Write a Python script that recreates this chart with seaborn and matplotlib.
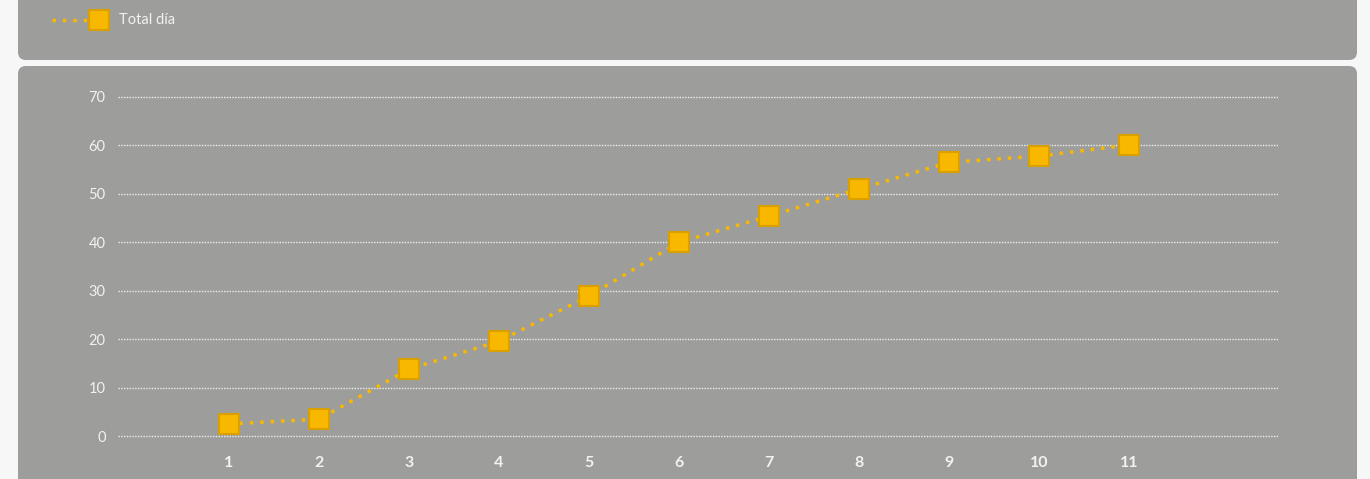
"""Total acumulado por día."""
import matplotlib
matplotlib.use("Agg")
import matplotlib.pyplot as plt
import seaborn as sns
from matplotlib.markers import MarkerStyle
from matplotlib.patches import FancyBboxPatch

dias = [1, 2, 3, 4, 5, 6, 7, 8, 9, 10, 11]
totales = [2.5, 3.5, 13.8, 19.6, 28.9, 40.0, 45.4, 51.0, 56.5, 57.8, 60.1]
yticks = [0, 10, 20, 30, 40, 50, 60, 70]
serie = "Total día"

sns.set_style("white")
plt.rcParams["font.family"] = ["Lato", "DejaVu Sans"]

GRIS = "#9d9d9b"
AMARILLO = "#f8b800"
BORDE = "#d9a000"
TEXTO = "#f2f2f2"

W, H = 1370, 479
fig = plt.figure(figsize=(W / 100, H / 100), dpi=100, facecolor="#f7f7f7")

# fondo con los dos paneles redondeados (coordenadas en píxeles)
bg = fig.add_axes([0, 0, 1, 1])
bg.set_xlim(0, W)
bg.set_ylim(H, 0)
bg.axis("off")
bg.add_patch(FancyBboxPatch((18, -20), 1339, 80, boxstyle="round,pad=0,rounding_size=8",
                            facecolor=GRIS, edgecolor="none"))
bg.add_patch(FancyBboxPatch((18, 66), 1339, 440, boxstyle="round,pad=0,rounding_size=8",
                            facecolor=GRIS, edgecolor="none"))

marcador = MarkerStyle("s", joinstyle="round")

# leyenda dibujada a mano en el panel superior
bg.plot([52, 99], [20, 20], color=AMARILLO, lw=2.5, linestyle=(0, (1, 2)))
bg.plot([99], [20], marker=marcador, markersize=15, color=AMARILLO,
        markeredgecolor=BORDE, markeredgewidth=1.5, linestyle="none")
bg.text(119, 20, serie, color=TEXTO, fontsize=10.5, va="center", ha="left")

# área del gráfico (un poco más alta que 0-70 para que se vea la línea del 0)
izq, der, arriba, abajo = 118, 1278, 95, 438
ax = fig.add_axes([izq / W, (H - abajo) / H, (der - izq) / W, (abajo - arriba) / H])
ax.set_facecolor("none")

sns.lineplot(x=dias, y=totales, ax=ax, color=AMARILLO, lw=2.5,
             linestyle=(0, (1, 2)), marker=marcador, markersize=15,
             markerfacecolor=AMARILLO, markeredgecolor=BORDE,
             markeredgewidth=1.5, clip_on=False, zorder=3)

ax.set_xlim(1 + (izq - 229) / 90, 1 + (der - 229) / 90)
ax.set_ylim(-0.4, 70.4)
ax.set_yticks(yticks)
ax.set_xticks(dias)
ax.set_xticklabels([str(d) for d in dias], fontsize=11.5, fontweight="bold", color=TEXTO)
ax.tick_params(axis="y", length=0, pad=9, labelsize=10.5, labelcolor=TEXTO)
ax.tick_params(axis="x", length=0, pad=13)
ax.grid(axis="y", color="#eeeeee", lw=1, linestyle=(0, (1, 1)))
ax.grid(axis="x", visible=False)
for lado in ax.spines.values():
    lado.set_visible(False)
ax.set_xlabel("")
ax.set_ylabel("")

fig.savefig("out.png", dpi=100, facecolor=fig.get_facecolor())
